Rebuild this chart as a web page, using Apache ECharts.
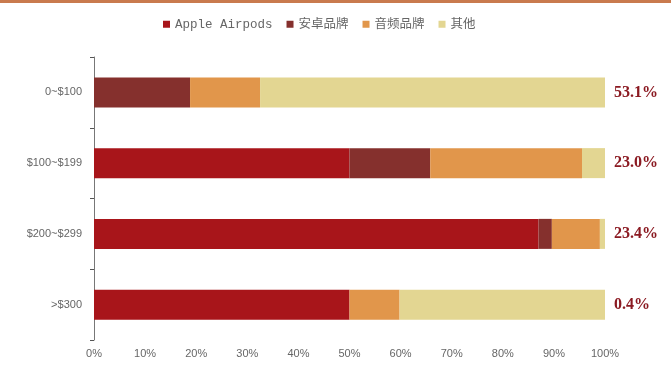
<!DOCTYPE html>
<html>
<head>
<meta charset="utf-8">
<script src="https://cdn.jsdelivr.net/npm/echarts@6/dist/echarts.min.js"></script>
<style>
  html, body { margin: 0; padding: 0; background: #fff; }
  #chart { width: 671px; height: 365px; }
</style>
</head>
<body>
<div id="chart"></div>
<script>
// price bands, top to bottom
var priceBands = ['0~$100', '$100~$199', '$200~$299', '>$300'];
// share of each band (%)
var appleShare   = [0, 50, 87, 50];
var androidShare = [18.8, 15.8, 2.6, 0];
var audioShare   = [13.7, 29.7, 9.4, 9.8];
var otherShare   = [67.5, 4.5, 1, 40.2];
// market share of the band, printed on the right
var bandShare = ['53.1%', '23.0%', '23.4%', '0.4%'];
var xTicks = ['0%', '10%', '20%', '30%', '40%', '50%', '60%', '70%', '80%', '90%', '100%'];

var chart = echarts.init(document.getElementById('chart'));

function bar(name, data, color) {
  return {
    name: name,
    type: 'bar',
    stack: 'total',
    barWidth: 30,
    data: data,
    itemStyle: { color: color }
  };
}

chart.setOption({
  animation: false,
  graphic: [{
    type: 'rect',
    shape: { x: 0, y: 0, width: 671, height: 3 },
    style: { fill: '#c97a4e' }
  }],
  legend: {
    top: 13,
    left: 158,
    itemWidth: 7,
    itemHeight: 7,
    itemGap: 14,
    icon: 'rect',
    textStyle: { color: '#666', fontSize: 12.5, fontFamily: 'Liberation Mono, Noto Sans CJK SC' },
    data: ['Apple Airpods', '安卓品牌', '音频品牌', '其他']
  },
  grid: { left: 94, right: 66, top: 57, bottom: 25 },
  xAxis: {
    type: 'value',
    min: 0,
    max: 100,
    interval: 10,
    axisLine: { show: false },
    axisTick: { show: false },
    splitLine: { show: false },
    axisLabel: {
      color: '#666',
      fontSize: 11,
      fontFamily: 'Liberation Sans',
      margin: 8,
      formatter: function (v) { return xTicks[Math.round(v / 10)]; }
    }
  },
  yAxis: [{
    type: 'category',
    inverse: true,
    data: priceBands,
    axisLine: { show: true, lineStyle: { color: '#777' } },
    axisTick: { show: true, length: 4, lineStyle: { color: '#555' } },
    axisLabel: { color: '#666', fontSize: 11, fontFamily: 'Liberation Sans', margin: 12 }
  }, {
    type: 'category',
    inverse: true,
    position: 'right',
    data: bandShare,
    axisLine: { show: false },
    axisTick: { show: false },
    axisLabel: {
      color: '#8b1a22',
      fontSize: 16,
      fontWeight: 'bold',
      fontFamily: 'Liberation Serif',
      margin: 9
    }
  }],
  series: [
    bar('Apple Airpods', appleShare, '#a8151a'),
    bar('安卓品牌', androidShare, '#85302d'),
    bar('音频品牌', audioShare, '#e1964b'),
    bar('其他', otherShare, '#e3d692')
  ]
});
</script>
</body>
</html>
